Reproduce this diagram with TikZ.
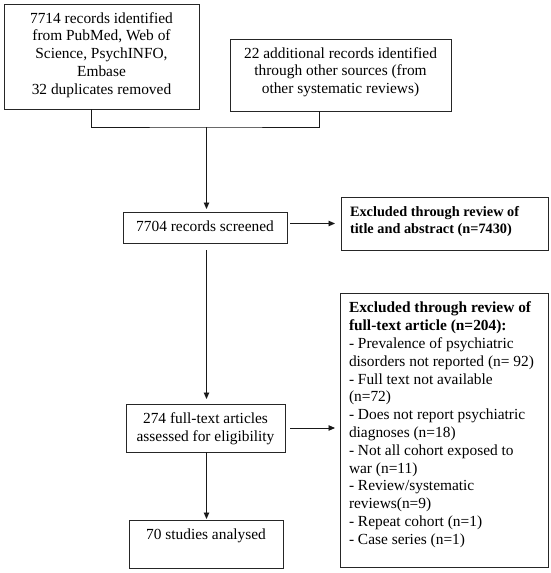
\documentclass[tikz,border=0pt]{standalone}
\usepackage{fontspec}
\setmainfont{Liberation Serif}
\usetikzlibrary{arrows.meta}
\begin{document}
\begin{tikzpicture}[x=1pt,y=-1pt,
  box/.style={draw=black!85, line width=0.9pt, inner sep=0pt, outer sep=0pt, font=\fontsize{15.4}{17.8}\selectfont},
  link/.style={line width=0.9pt, draw=black!90},
  arr/.style={link, -{Triangle[length=6.5pt,width=5.5pt]}}]
\useasboundingbox (0,0) rectangle (551,573);
\fill[white] (0,0) rectangle (551,573);
% boxes
\node[box, minimum width=195pt, minimum height=105pt] (A) at (101.5,56.5)
  {\parbox[c][105pt][t]{185pt}{\centering\vspace*{6.7pt}\strut 7714 records identified\\from PubMed, Web of\\Science, PsychINFO,\\Embase\\32 duplicates removed}};
\node[box, minimum width=221pt, minimum height=72pt] (B) at (340.5,75)
  {\parbox[c][72pt][t]{211pt}{\centering\vspace*{6.7pt}\strut 22 additional records identified\\through other sources (from\\other systematic reviews)}};
\node[box, minimum width=164pt, minimum height=31pt] (C) at (205,227.5)
  {\parbox[c][31pt][t]{154pt}{\centering\vspace*{7.2pt}\strut 7704 records screened}};
\node[box, minimum width=207pt, minimum height=53pt] (D) at (444.5,223.5)
  {\parbox[c][53pt][t]{189pt}{\raggedright\fontsize{14.3}{16.5}\selectfont\bfseries\vspace*{8.3pt}\strut Excluded through review of\\title and abstract (n=7430)}};
\node[box, minimum width=159pt, minimum height=48pt] (E) at (205.5,428)
  {\parbox[c][48pt][t]{149pt}{\centering\vspace*{7.5pt}\strut 274 full-text articles\\assessed for eligibility}};
\node[box, minimum width=208pt, minimum height=274pt] (F) at (444,430)
  {\parbox[c][274pt][t]{190pt}{\raggedright\vspace*{7.5pt}\strut{\bfseries Excluded through review of\\full-text article (n=204):}\\- Prevalence of psychiatric\\disorders not reported (n= 92)\\- Full text not available\\(n=72)\\- Does not report psychiatric\\diagnoses (n=18)\\- Not all cohort exposed to\\war (n=11)\\- Review/systematic\\reviews(n=9)\\- Repeat cohort (n=1)\\- Case series (n=1)}};
\node[box, minimum width=154pt, minimum height=48pt] (G) at (206,544)
  {\parbox[c][48pt][t]{144pt}{\centering\vspace*{6.7pt}\strut 70 studies analysed}};
% connectors
\coordinate (jn) at (206.5,127);
\draw[link] ([xshift=-10.5pt]A.south) |- (jn) -| ([xshift=-21.5pt]B.south);
\draw[arr, shorten >=3pt] (jn) -- (jn |- C.north);
\draw[arr, shorten <=7pt, shorten >=5pt] (jn |- C.south) -- (jn |- E.north);
\draw[arr, shorten >=1pt] (jn |- E.south) -- (jn |- G.north);
\draw[arr, shorten <=3pt, shorten >=6pt] (C.east |- D.west) -- (D.west);
\draw[arr, shorten <=5pt, shorten >=5pt] (E.east) -- (E.east -| F.west);
\end{tikzpicture}
\end{document}
